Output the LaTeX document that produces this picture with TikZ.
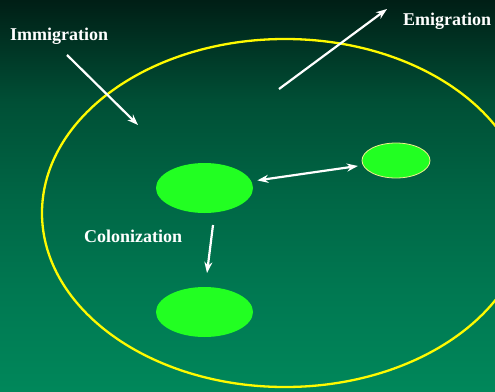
\documentclass[tikz,border=0pt]{standalone}
\usepackage{fontspec}
\setmainfont{Liberation Serif}
\usetikzlibrary{shapes.geometric,arrows.meta}
\definecolor{patch}{RGB}{34,255,34}
\definecolor{ring}{RGB}{255,250,0}
\definecolor{rim}{RGB}{240,240,140}
\pgfdeclareverticalshading{bgshade}{100bp}{%
  rgb(0bp)=(0,0.53,0.353);
  rgb(25bp)=(0,0.53,0.353);
  rgb(38bp)=(0,0.47,0.318);
  rgb(50bp)=(0,0.40,0.27);
  rgb(62bp)=(0,0.31,0.21);
  rgb(75bp)=(0,0.12,0.085);
  rgb(100bp)=(0,0.12,0.085)}
\begin{document}
\begin{tikzpicture}[x=1pt,y=-1pt,
  patchnode/.style={ellipse,fill=patch,inner sep=0pt},
  label/.style={text=white,font=\bfseries\fontsize{18}{20}\selectfont,anchor=base west,inner sep=0pt},
  flow/.style={draw=white,line width=2.2pt,-{Stealth[length=11pt,width=8pt]}},
  flow2/.style={draw=white,line width=2.2pt,{Stealth[length=11pt,width=8pt]}-{Stealth[length=11pt,width=8pt]}}]
\shade[shading=bgshade] (0,0) rectangle (495,391);
\useasboundingbox (0,0) rectangle (495,391);
\begin{scope}
\clip (0,0) rectangle (495,391);
\draw[ring,line width=2.3pt] (285,213) ellipse [x radius=243,y radius=174];
\end{scope}
\node[patchnode,minimum width=97pt,minimum height=50pt] (A) at (204.5,188) {};
\node[patchnode,minimum width=97pt,minimum height=50pt] (B) at (204.5,312) {};
\node[patchnode,draw=rim,line width=0.8pt,minimum width=68pt,minimum height=35pt] (C) at (396,160.5) {};
\node[label] (imm) at (10,40) {Immigration};
\node[label] (emi) at (403,25) {Emigration};
\node[label] (col) at (84,242) {Colonization};
\coordinate (i1) at (67,55);
\coordinate (i2) at (138,125);
\coordinate (e1) at (279,89);
\coordinate (e2) at (387,9);
\coordinate (c1) at (213,225);
\coordinate (c2) at (207,273);
\draw[flow] (i1) -- (i2);
\draw[flow] (e1) -- (e2);
\draw[flow] (c1) -- (c2);
\draw[flow2,shorten <=6pt,shorten >=5pt] (A) -- (C);
\end{tikzpicture}
\end{document}
